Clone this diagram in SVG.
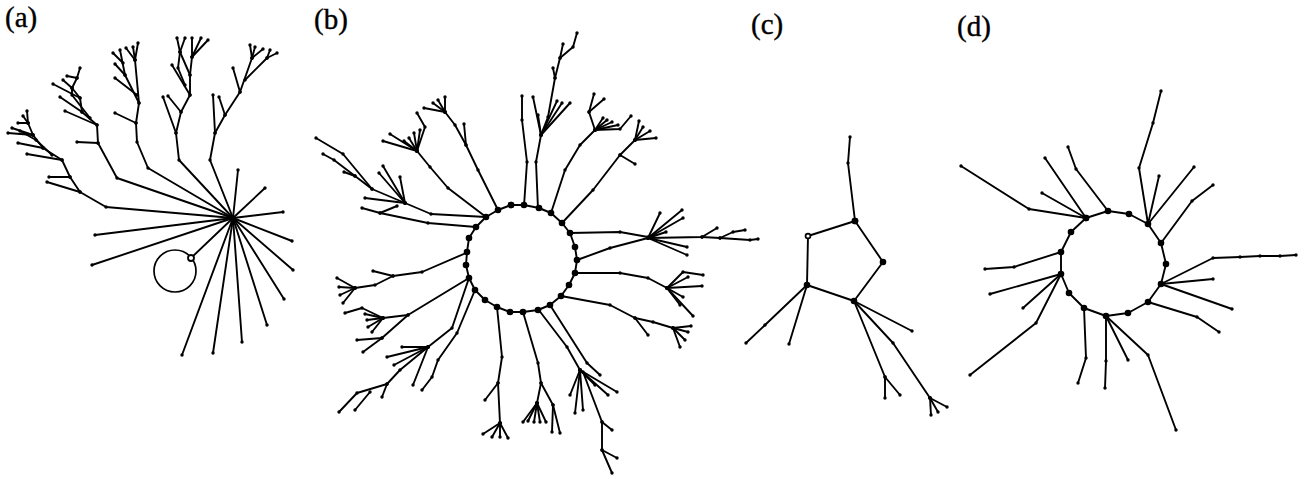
<svg xmlns="http://www.w3.org/2000/svg" width="1305" height="479" viewBox="0 0 1305 479">
<style>
.e{fill:none;stroke:#000;stroke-width:1.9;stroke-linejoin:round;stroke-linecap:round;marker-start:url(#d);marker-mid:url(#d);marker-end:url(#d)}
.r{fill:none;stroke:#000;stroke-width:1.9;stroke-linejoin:round;marker-start:url(#D);marker-mid:url(#D);marker-end:url(#D)}
.lb{font-family:"Liberation Serif","Times New Roman",serif;font-size:29px;fill:#000;stroke:#000;stroke-width:0.4}
</style>
<defs>
<marker id="d" markerUnits="userSpaceOnUse" viewBox="0 0 4 4" refX="2" refY="2" markerWidth="4" markerHeight="4"><circle cx="2" cy="2" r="1.7" fill="#000"/></marker>
<marker id="D" markerUnits="userSpaceOnUse" viewBox="0 0 8 8" refX="4" refY="4" markerWidth="8" markerHeight="8"><circle cx="4" cy="4" r="3.3" fill="#000"/></marker>
</defs>
<rect width="1305" height="479" fill="#fff"/>
<g id="labels">
<text class="lb" x="5" y="27">(a)</text>
<text class="lb" x="314" y="29">(b)</text>
<text class="lb" x="751" y="34">(c)</text>
<text class="lb" x="957" y="36">(d)</text>
</g>
<g id="panel-a">
<g id="a-spokes">
<polyline class="e" points="233,218 238,170"/>
<polyline class="e" points="233,218 265,188"/>
<polyline class="e" points="233,218 283,212"/>
<polyline class="e" points="233,218 292,241"/>
<polyline class="e" points="233,218 293,270"/>
<polyline class="e" points="233,218 284,299"/>
<polyline class="e" points="233,218 267,325"/>
<polyline class="e" points="233,218 242,342"/>
<polyline class="e" points="233,218 213,353"/>
<polyline class="e" points="233,218 182,355"/>
<polyline class="e" points="233,218 95,235"/>
<polyline class="e" points="233,218 92,265"/>
<polyline class="e" points="233,218 191,258"/>
</g>
<g id="a-loop">
<circle cx="175" cy="271" r="21" fill="none" stroke="#000" stroke-width="1.7"/>
<circle cx="191" cy="258" r="3" fill="#fff" stroke="#000" stroke-width="1.8"/>
</g>
<g id="a-tree1">
<polyline class="e" points="233,218 106,207 80,192 70,177 62,160 43,148 33,135 28,123 27,111"/>
<polyline class="e" points="80,192 47,182"/>
<polyline class="e" points="70,177 49,177"/>
<polyline class="e" points="62,160 27,154"/>
<polyline class="e" points="43,148 18,143"/>
<polyline class="e" points="33,135 8,133"/>
<polyline class="e" points="33,135 12,128"/>
<polyline class="e" points="28,123 18,123"/>
<polyline class="e" points="28,123 23,116"/>
<polyline class="e" points="52,155 36,140 20,131"/>
</g>
<g id="a-tree2">
<polyline class="e" points="233,218 117,178 98,143 97,125 82,112 80,98 72,88 77,78 80,68"/>
<polyline class="e" points="98,143 77,142"/>
<polyline class="e" points="97,125 65,111"/>
<polyline class="e" points="82,112 60,97"/>
<polyline class="e" points="80,98 53,84"/>
<polyline class="e" points="72,88 63,80"/>
<polyline class="e" points="77,78 67,76"/>
<polyline class="e" points="90,118 72,95 72,88"/>
</g>
<g id="a-tree3">
<polyline class="e" points="233,218 148,168 137,142 136,123 139,103 135,60 138,43"/>
<polyline class="e" points="139,103 125,75 120,50"/>
<polyline class="e" points="136,123 115,113"/>
<polyline class="e" points="137,95 115,78"/>
<polyline class="e" points="125,75 115,64"/>
<polyline class="e" points="123,63 113,53"/>
<polyline class="e" points="135,60 126,48"/>
<polyline class="e" points="135,60 133,47"/>
</g>
<g id="a-tree4">
<polyline class="e" points="233,218 179,160 176,133 181,112 190,95 190,75 192,57 192,38"/>
<polyline class="e" points="176,133 163,97"/>
<polyline class="e" points="181,112 168,96"/>
<polyline class="e" points="190,95 172,65"/>
<polyline class="e" points="190,75 180,52 177,38"/>
<polyline class="e" points="180,52 185,38"/>
<polyline class="e" points="192,57 201,38"/>
<polyline class="e" points="192,57 208,40"/>
<polyline class="e" points="185,85 178,68 180,52"/>
</g>
<g id="a-tree5">
<polyline class="e" points="233,218 210,160 215,133 225,115 240,92 252,58 255,47"/>
<polyline class="e" points="215,133 213,95"/>
<polyline class="e" points="225,115 219,97"/>
<polyline class="e" points="240,92 233,68"/>
<polyline class="e" points="252,58 250,45"/>
<polyline class="e" points="252,58 263,49"/>
<polyline class="e" points="245,80 267,58 277,53"/>
<polyline class="e" points="267,58 270,50"/>
</g>
</g>
<g id="panel-b">
<g id="b-branches">
<polyline class="e" points="486,217 431,214 405,203"/>
<polyline class="e" points="405,203 365,198"/>
<polyline class="e" points="405,203 379,173"/>
<polyline class="e" points="405,203 383,166"/>
<polyline class="e" points="405,203 400,177"/>
<polyline class="e" points="405,203 372,189 355,176 344,172"/>
<polyline class="e" points="372,189 343,154 316,138"/>
<polyline class="e" points="355,176 334,160 323,154"/>
<polyline class="e" points="476,227 428,223 380,213 362,208"/>
<polyline class="e" points="380,213 397,206"/>
<polyline class="e" points="486,217 448,188 430,167 417,151"/>
<polyline class="e" points="417,151 383,141"/>
<polyline class="e" points="417,151 390,134"/>
<polyline class="e" points="417,151 404,141"/>
<polyline class="e" points="417,151 409,138"/>
<polyline class="e" points="417,151 414,133"/>
<polyline class="e" points="417,151 420,130"/>
<polyline class="e" points="417,151 425,127 417,113"/>
<polyline class="e" points="498,210 478,170 466,145 464,124"/>
<polyline class="e" points="466,145 455,125 445,112"/>
<polyline class="e" points="445,112 424,108"/>
<polyline class="e" points="445,112 433,103"/>
<polyline class="e" points="445,112 438,100"/>
<polyline class="e" points="445,112 445,97"/>
<polyline class="e" points="524,206 527,162 522,120 522,96"/>
<polyline class="e" points="538,209 536,162 541,135"/>
<polyline class="e" points="541,135 533,97"/>
<polyline class="e" points="541,135 538,115"/>
<polyline class="e" points="541,135 557,101"/>
<polyline class="e" points="541,135 562,103"/>
<polyline class="e" points="541,135 570,103"/>
<polyline class="e" points="541,135 548,117 555,78 560,58 563,44"/>
<polyline class="e" points="555,78 553,68"/>
<polyline class="e" points="560,58 573,47 577,33"/>
<polyline class="e" points="551,213 565,170 580,145 595,130"/>
<polyline class="e" points="595,130 589,112 594,94"/>
<polyline class="e" points="589,112 604,99"/>
<polyline class="e" points="595,130 603,118"/>
<polyline class="e" points="595,130 607,120"/>
<polyline class="e" points="595,130 612,122"/>
<polyline class="e" points="595,130 618,125"/>
<polyline class="e" points="595,130 620,129 631,116"/>
<polyline class="e" points="562,223 593,190 620,155 635,140"/>
<polyline class="e" points="620,155 635,164"/>
<polyline class="e" points="635,140 639,121"/>
<polyline class="e" points="635,140 643,127"/>
<polyline class="e" points="635,140 650,131"/>
<polyline class="e" points="635,140 656,138"/>
<polyline class="e" points="570,233 620,232 648,237"/>
<polyline class="e" points="577,260 610,248 648,238"/>
<polyline class="e" points="648,238 660,213"/>
<polyline class="e" points="648,238 682,210"/>
<polyline class="e" points="648,238 683,218"/>
<polyline class="e" points="648,238 666,232"/>
<polyline class="e" points="648,238 687,247"/>
<polyline class="e" points="648,238 687,255"/>
<polyline class="e" points="648,238 702,237 717,228"/>
<polyline class="e" points="702,237 720,238 750,240 758,239"/>
<polyline class="e" points="720,238 733,232 745,230"/>
<polyline class="e" points="574,273 620,273 648,278 667,288"/>
<polyline class="e" points="667,288 683,272 703,275"/>
<polyline class="e" points="667,288 688,277"/>
<polyline class="e" points="667,288 702,286"/>
<polyline class="e" points="667,288 683,297"/>
<polyline class="e" points="667,288 680,305"/>
<polyline class="e" points="667,288 693,316"/>
<polyline class="e" points="561,296 610,305 635,318 648,335"/>
<polyline class="e" points="635,318 653,322 673,328"/>
<polyline class="e" points="673,328 691,326"/>
<polyline class="e" points="673,328 688,332"/>
<polyline class="e" points="673,328 685,340"/>
<polyline class="e" points="673,328 680,347"/>
<polyline class="e" points="523,312 538,363 541,383 537,403"/>
<polyline class="e" points="537,403 523,422"/>
<polyline class="e" points="537,403 528,421"/>
<polyline class="e" points="537,403 534,422"/>
<polyline class="e" points="537,403 540,422"/>
<polyline class="e" points="537,403 546,422"/>
<polyline class="e" points="541,383 553,405 560,433"/>
<polyline class="e" points="553,405 552,432"/>
<polyline class="e" points="538,309 567,347 580,370"/>
<polyline class="e" points="550,305 587,363 600,375"/>
<polyline class="e" points="580,370 570,395"/>
<polyline class="e" points="580,370 575,413"/>
<polyline class="e" points="580,370 583,410"/>
<polyline class="e" points="580,370 595,385"/>
<polyline class="e" points="580,370 608,395"/>
<polyline class="e" points="580,370 617,392"/>
<polyline class="e" points="583,372 602,422 612,430"/>
<polyline class="e" points="602,422 602,450 617,458"/>
<polyline class="e" points="602,450 612,473"/>
<polyline class="e" points="466,253 422,272 393,276 373,271"/>
<polyline class="e" points="393,276 375,285 355,288"/>
<polyline class="e" points="355,288 337,278"/>
<polyline class="e" points="355,288 339,287"/>
<polyline class="e" points="355,288 340,295"/>
<polyline class="e" points="355,288 343,303"/>
<polyline class="e" points="469,278 408,315 383,318"/>
<polyline class="e" points="383,318 362,308 345,313"/>
<polyline class="e" points="383,318 365,314"/>
<polyline class="e" points="383,318 367,320"/>
<polyline class="e" points="383,318 368,327"/>
<polyline class="e" points="383,318 372,332"/>
<polyline class="e" points="408,315 382,338 357,340"/>
<polyline class="e" points="382,338 363,352"/>
<polyline class="e" points="469,278 452,328 428,347"/>
<polyline class="e" points="428,347 402,347"/>
<polyline class="e" points="428,347 387,357"/>
<polyline class="e" points="428,347 394,365"/>
<polyline class="e" points="428,347 413,385"/>
<polyline class="e" points="428,347 400,370 387,384 357,393 339,412"/>
<polyline class="e" points="370,392 355,410"/>
<polyline class="e" points="387,384 382,397"/>
<polyline class="e" points="475,290 457,333 438,360 432,377 422,390"/>
<polyline class="e" points="497,307 502,357 498,383 485,400"/>
<polyline class="e" points="498,383 500,423"/>
<polyline class="e" points="500,423 483,434"/>
<polyline class="e" points="500,423 492,437"/>
<polyline class="e" points="500,423 500,437"/>
<polyline class="e" points="500,423 508,438"/>
</g>
<polygon id="b-ring" class="r" points="511,205 524,205 539,208 551,213 562,223 570,233 575,247 577,260 575,273 569,285 561,296 550,305 538,310 523,312 510,312 497,307 485,300 475,290 469,278 466,265 467,252 469,238 476,227 486,217 498,210"/>
</g>
<g id="panel-c">
<g id="c-branches">
<polyline class="e" points="855,221 848,163 850,137"/>
<polyline class="e" points="807,285 765,325 746,343"/>
<polyline class="e" points="807,285 789,344"/>
<polyline class="e" points="854,301 912,331"/>
<polyline class="e" points="854,301 885,377 885,398"/>
<polyline class="e" points="885,377 900,395"/>
<polyline class="e" points="854,301 893,343 930,398"/>
<polyline class="e" points="930,398 931,415"/>
<polyline class="e" points="930,398 938,412"/>
<polyline class="e" points="930,398 947,407"/>
</g>
<polygon id="c-ring" class="r" points="855,221 883,262 854,301 807,285 808,236"/>
<circle cx="808" cy="236" r="1.6" fill="#fff"/>
</g>
<g id="panel-d">
<g id="d-branches">
<polyline class="e" points="1086,218 1029,209 961,166"/>
<polyline class="e" points="1086,218 1042,193"/>
<polyline class="e" points="1086,218 1045,158"/>
<polyline class="e" points="1108,211 1076,169 1068,147"/>
<polyline class="e" points="1148,224 1139,168 1153,123 1161,91"/>
<polyline class="e" points="1148,224 1159,176"/>
<polyline class="e" points="1148,224 1194,167"/>
<polyline class="e" points="1161,243 1192,201 1213,185"/>
<polyline class="e" points="1161,284 1213,258 1240,257 1260,256 1280,256 1296,255"/>
<polyline class="e" points="1161,284 1213,279"/>
<polyline class="e" points="1161,284 1232,309"/>
<polyline class="e" points="1148,302 1197,317 1219,332"/>
<polyline class="e" points="1106,316 1106,361 1105,388"/>
<polyline class="e" points="1106,316 1128,360"/>
<polyline class="e" points="1106,316 1148,355 1176,430"/>
<polyline class="e" points="1084,308 1086,358 1078,383"/>
<polyline class="e" points="1061,274 1036,323 970,375"/>
<polyline class="e" points="1061,274 1023,308"/>
<polyline class="e" points="1061,274 990,294"/>
<polyline class="e" points="1061,252 1014,267 985,269"/>
</g>
<polygon id="d-ring" class="r" points="1086,218 1108,211 1129,214 1148,224 1161,243 1166,264 1161,284 1148,302 1128,313 1106,316 1084,308 1069,293 1061,274 1061,252 1071,232"/>
</g>
</svg>
